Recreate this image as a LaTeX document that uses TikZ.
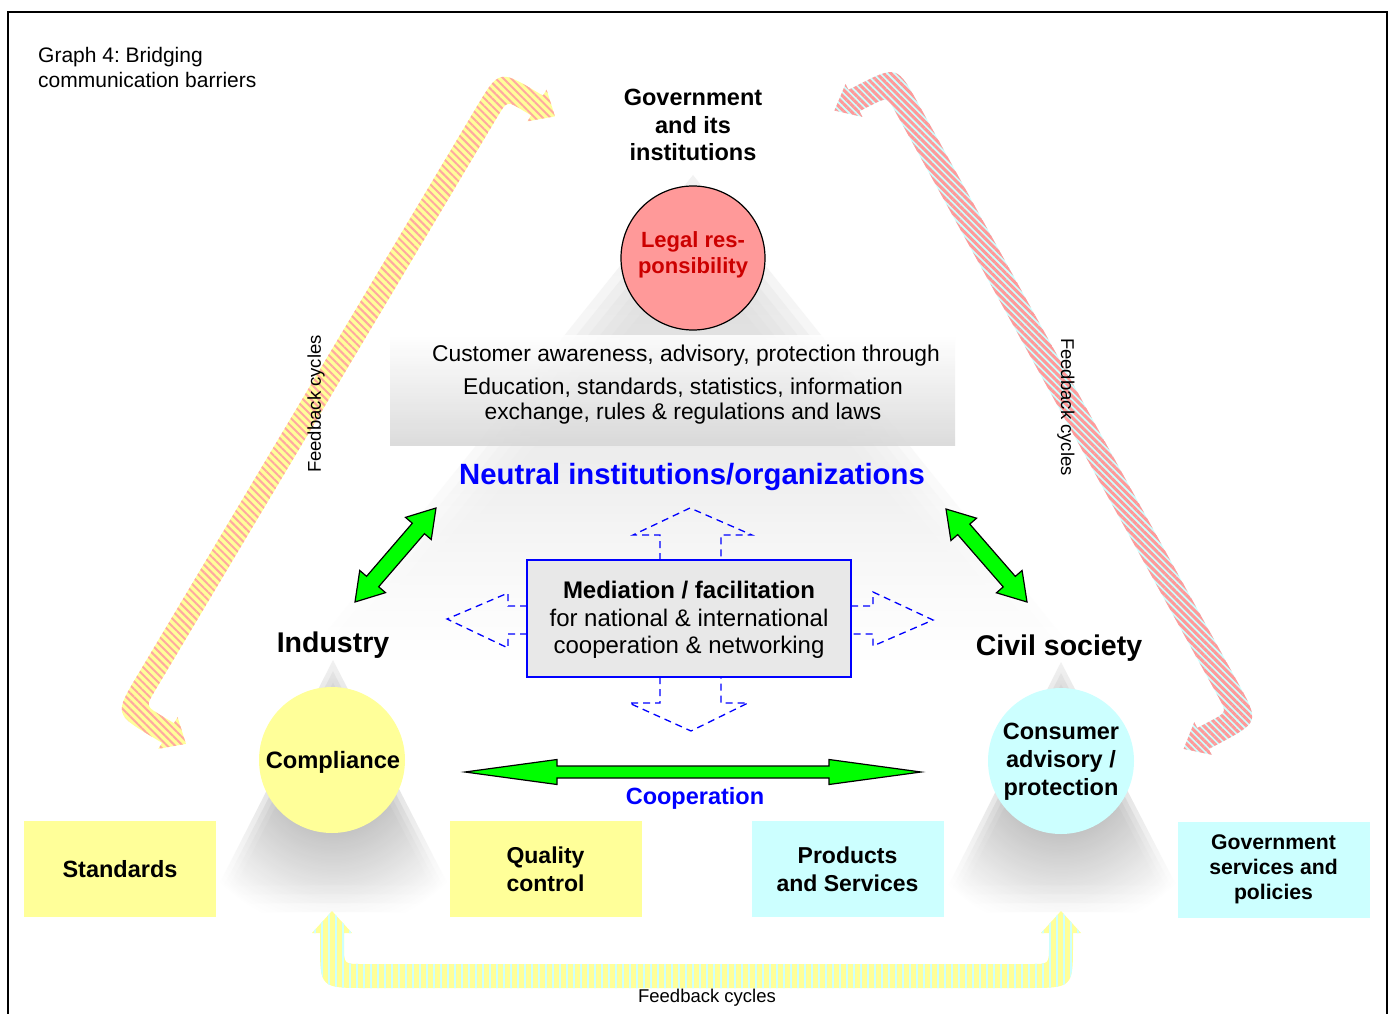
\documentclass[tikz,border=0pt]{standalone}
\usepackage{fontspec}
\setmainfont{Liberation Sans}
\usetikzlibrary{calc,patterns.meta}
\definecolor{lyellow}{HTML}{FFFF99}
\definecolor{lcyan}{HTML}{CCFFFF}
\definecolor{lpink}{HTML}{FF9999}
\definecolor{spink}{HTML}{FFA8A0}
\definecolor{dred}{HTML}{CC0000}
\definecolor{nblue}{HTML}{0000FF}
\definecolor{mgray}{HTML}{E8E8E8}
\definecolor{agreen}{HTML}{00FF00}
\newcommand\fsz[2]{\fontsize{#1}{#2}\selectfont}
\frenchspacing

% fat bent double-headed arrow: #1 P0 #2 C1 #3 C2 #4 P3 #5 style #6 half width #7 head half width #8 head length #9 corner radius on L side; \fbrr corner radius on R side
\newcommand\fbrr{20pt}
\newcommand\fbarrow[9]{%
  \coordinate (fbP0) at #1;
  \coordinate (fbC1) at #2;
  \coordinate (fbC2) at #3;
  \coordinate (fbP3) at #4;
  \coordinate (fbL0) at ($(fbP0)!#6!90:(fbC1)$);
  \coordinate (fbL1a) at ($(fbC1)!#6!-90:(fbP0)$);
  \coordinate (fbL1b) at ($(fbC1)!#6!90:(fbC2)$);
  \coordinate (fbL2a) at ($(fbC2)!#6!-90:(fbC1)$);
  \coordinate (fbL2b) at ($(fbC2)!#6!90:(fbP3)$);
  \coordinate (fbL3) at ($(fbP3)!#6!-90:(fbC2)$);
  \coordinate (fbL1) at (intersection of fbL0--fbL1a and fbL1b--fbL2a);
  \coordinate (fbL2) at (intersection of fbL1b--fbL2a and fbL2b--fbL3);
  \coordinate (fbR0) at ($(fbP0)!#6!-90:(fbC1)$);
  \coordinate (fbR1a) at ($(fbC1)!#6!90:(fbP0)$);
  \coordinate (fbR1b) at ($(fbC1)!#6!-90:(fbC2)$);
  \coordinate (fbR2a) at ($(fbC2)!#6!90:(fbC1)$);
  \coordinate (fbR2b) at ($(fbC2)!#6!-90:(fbP3)$);
  \coordinate (fbR3) at ($(fbP3)!#6!90:(fbC2)$);
  \coordinate (fbR1) at (intersection of fbR0--fbR1a and fbR1b--fbR2a);
  \coordinate (fbR2) at (intersection of fbR1b--fbR2a and fbR2b--fbR3);
  \coordinate (fbT0) at ($(fbP0)!-#8!(fbC1)$);
  \coordinate (fbH0L) at ($(fbP0)!#7!90:(fbC1)$);
  \coordinate (fbH0R) at ($(fbP0)!#7!-90:(fbC1)$);
  \coordinate (fbT3) at ($(fbP3)!-#8!(fbC2)$);
  \coordinate (fbH3L) at ($(fbP3)!#7!-90:(fbC2)$);
  \coordinate (fbH3R) at ($(fbP3)!#7!90:(fbC2)$);
  \path[#5] (fbT0) -- (fbH0L) -- (fbL0)
    -- ($(fbL1)!#9!(fbL0)$) .. controls (fbL1) .. ($(fbL1)!#9!(fbL2)$)
    -- ($(fbL2)!#9!(fbL1)$) .. controls (fbL2) .. ($(fbL2)!#9!(fbL3)$)
    -- (fbL3) -- (fbH3L) -- (fbT3) -- (fbH3R) -- (fbR3)
    -- ($(fbR2)!\fbrr!(fbR3)$) .. controls (fbR2) .. ($(fbR2)!\fbrr!(fbR1)$)
    -- ($(fbR1)!\fbrr!(fbR2)$) .. controls (fbR1) .. ($(fbR1)!\fbrr!(fbR0)$)
    -- (fbR0) -- (fbH0R) -- cycle;
}

% straight double-headed block arrow: #1 A #2 B #3 shaft half width #4 head half width #5 head length
\newcommand\dblarr[5]{%
  \coordinate (gA) at #1;
  \coordinate (gB) at #2;
  \coordinate (gHa) at ($(gA)!#5!(gB)$);
  \coordinate (gHb) at ($(gB)!#5!(gA)$);
  \draw[garrow] (gA) -- ($(gHa)!#4!90:(gB)$) -- ($(gHa)!#3!90:(gB)$)
    -- ($(gHb)!#3!-90:(gA)$) -- ($(gHb)!#4!-90:(gA)$) -- (gB)
    -- ($(gHb)!#4!90:(gA)$) -- ($(gHb)!#3!90:(gA)$)
    -- ($(gHa)!#3!-90:(gB)$) -- ($(gHa)!#4!-90:(gB)$) -- cycle;
}

\begin{document}
\begin{tikzpicture}[x=1pt,y=-1pt,
  txt/.style={inner sep=0pt, align=center},
  garrow/.style={draw=black, line width=1.2pt, fill=agreen, line join=miter},
  dasharr/.style={draw=nblue, line width=1.3pt, dash pattern=on 7pt off 5pt},
  boxy/.style={fill=lyellow, minimum width=192pt, minimum height=96pt, inner sep=0pt, align=center, font=\bfseries\fsz{23}{28}},
  boxc/.style={fill=lcyan, minimum width=192pt, minimum height=96pt, inner sep=0pt, align=center, font=\bfseries\fsz{23}{28}},
  fbleft/.style={preaction={fill=lyellow}, pattern={Lines[angle=-45,distance=5.5pt,line width=2pt]}, pattern color=spink},
  fbright/.style={preaction={fill=lcyan}, pattern={Lines[angle=-45,distance=5pt,line width=3pt]}, pattern color=lpink},
  fbbottom/.style={preaction={fill=lyellow}, pattern={Lines[angle=90,distance=7pt,line width=2pt]}, pattern color=lcyan}
]
\useasboundingbox (0,0) rectangle (1390,1014);
\fill[white] (0,0) rectangle (1390,1014);

% soft shadow cones
\foreach \s in {1.0,0.95,0.9,0.85,0.8,0.75}{
  \shade[top color=gray!35, middle color=gray!45, bottom color=white, opacity=0.28, scale around={\s:(693,470)}]
    (693,175) -- (300,665) -- (1085,665) -- cycle;
}
\shade[top color=white, bottom color=gray!32, opacity=0.85] (390,335) rectangle (955,445);
\foreach \s in {1.0,0.92,0.84,0.76}{
  \begin{scope}
    \clip[scale around={\s:(333,800)}] (333,660) -- (205,912) -- (462,912) -- cycle;
    \shade[inner color=gray!85, outer color=white, opacity=0.4] (333,770) circle (160);
  \end{scope}
  \begin{scope}
    \clip[scale around={\s:(1061,800)}] (1061,662) -- (935,912) -- (1190,912) -- cycle;
    \shade[inner color=gray!85, outer color=white, opacity=0.4] (1061,772) circle (160);
  \end{scope}
}

% frame
\draw[line width=1.5pt] (8,12) rectangle (1387,1040);

% feedback arrows
\renewcommand\fbrr{18pt}
\fbarrow{(168,733)}{(130,710)}{(503,85)}{(537,105.5)}{fbleft}{11.5pt}{18.5pt}{21pt}{46pt}
\fbarrow{(854,100.5)}{(892,81)}{(1243,717)}{(1203,738.5)}{fbright}{12pt}{18.5pt}{22pt}{46pt}
\renewcommand\fbrr{46pt}
\fbarrow{(332,933)}{(332,976)}{(1061,976)}{(1061,933)}{fbbottom}{12pt}{20pt}{22pt}{18pt}

% title
\node[txt, anchor=west, align=left, font=\fsz{21}{25}] (title) at (38,67) {Graph 4: Bridging\\communication barriers};

% government
\node[txt, font=\bfseries\fsz{23.5}{27.5}] (gov) at (693,125) {Government\\and its\\institutions};
\node[circle, draw=black, line width=1.2pt, fill=lpink, minimum size=144pt, inner sep=0pt] (legal) at (693,258) {};
\node[txt, text=dred, font=\bfseries\fsz{22}{26}] (legaltxt) at (693,254.5) {Legal res-\\ponsibility};

% customer awareness text
\node[txt, font=\fsz{22.8}{27}] (cust1) at (686,356) {Customer awareness, advisory, protection through};
\node[txt, font=\fsz{22.8}{27}] (cust2) at (683,388) {Education, standards, statistics, information};
\node[txt, font=\fsz{22.8}{27}] (cust3) at (683,414) {exchange, rules \& regulations and laws};

\node[txt, text=nblue, font=\bfseries\fsz{29.3}{34}] (neutral) at (692,477) {Neutral institutions/organizations};

% dashed arrows around mediation box
\draw[dasharr] (660,560) -- (660,535) -- (633,535) -- (690,508) -- (752,535) -- (721,535) -- (721,560);
\draw[dasharr] (660,677) -- (660,703) -- (629,703) -- (691,731) -- (748,703) -- (721,703) -- (721,677);
\draw[dasharr] (527,606) -- (508,606) -- (508,593) -- (447,619) -- (508,648) -- (508,634) -- (527,634);
\draw[dasharr] (851,606) -- (873,606) -- (873,592) -- (933,620) -- (873,646) -- (873,634) -- (851,634);

\node[draw=nblue, line width=1.5pt, fill=mgray, minimum width=324pt, minimum height=117pt, inner sep=0pt] (med) at (689,618.5) {};
\node[txt, font=\fsz{24}{27.5}] (medtxt) at (689,620) {\textbf{Mediation / facilitation}\\for national \& international\\cooperation \& networking};

% green arrows
\dblarr{(355,602)}{(436,508)}{8pt}{17pt}{27pt}
\dblarr{(1027,602)}{(946,509)}{8pt}{17pt}{27pt}
\dblarr{(465,772)}{(921,772)}{6pt}{12.5pt}{92pt}

% industry / civil society
\node[txt, font=\bfseries\fsz{28.5}{32}] (ind) at (333,645) {Industry};
\node[txt, font=\bfseries\fsz{28.5}{32}] (civ) at (1059,648) {Civil society};

\node[circle, fill=lyellow, minimum size=146pt, inner sep=0pt] (comp) at (332,760) {};
\node[txt, font=\bfseries\fsz{23.7}{28}] (comptxt) at (333,762) {Compliance};
\node[circle, fill=lcyan, minimum size=146pt, inner sep=0pt] (cons) at (1061,761) {};
\node[txt, font=\bfseries\fsz{23.5}{28}] (constxt) at (1061,762) {Consumer\\advisory /\\protection};

\node[txt, text=nblue, font=\bfseries\fsz{23.5}{28}] (coop) at (695,798) {Cooperation};

% boxes
\node[boxy, font=\bfseries\fsz{23.5}{28}] (std) at (120,869) {Standards};
\node[boxy] (qc) at (545.5,869) {Quality\\control};
\node[boxc] (prod) at (847.5,869) {Products\\and Services};
\node[boxc, font=\bfseries\fsz{21.2}{25}] (gsp) at (1273.5,869.5) {Government\\services and\\policies};

% feedback labels
\node[txt, rotate=90, font=\fsz{18.5}{22}] (fbl) at (316,404) {Feedback cycles};
\node[txt, rotate=-90, font=\fsz{18.5}{22}] (fbr) at (1066,407) {Feedback cycles};
\node[txt, font=\fsz{18.5}{22}] (fbb) at (707,998) {Feedback cycles};
\end{tikzpicture}
\end{document}
